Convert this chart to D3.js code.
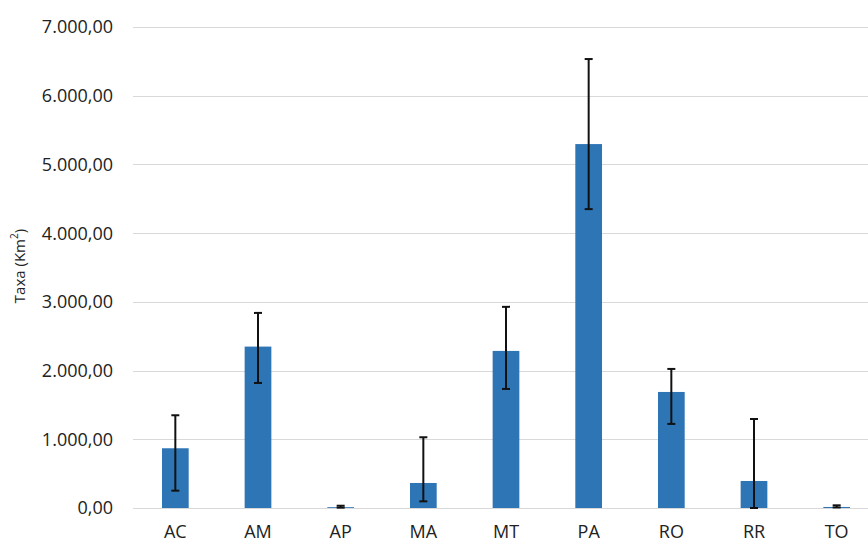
<!DOCTYPE html>
<html lang="pt">
<head>
<meta charset="UTF-8">
<script src="https://d3js.org/d3.v7.min.js"></script>
<style>
    body { margin: 0; background: #fff; }
    svg { display: block; font-family: "Open Sans", sans-serif; }
</style>
</head>
<body>
<svg id="chart" width="868" height="544"></svg>
<script>
    // dados
    const estados = ["AC", "AM", "AP", "MA", "MT", "PA", "RO", "RR", "TO"];
    const taxa = [869, 2348, 12, 364, 2285, 5294, 1688, 393, 15];
    const erroMin = [252, 1819, 5, 97, 1732, 4348, 1223, 0, 8];
    const erroMax = [1349, 2838, 33, 1029, 2926, 6531, 2023, 1295, 39];
    const yTicks = [0, 1000, 2000, 3000, 4000, 5000, 6000, 7000];

    const svg = d3.select("#chart");

    const x = d3.scaleBand()
        .domain(estados)
        .range([134, 878])
        .paddingInner(0.677)
        .paddingOuter(0.3385);

    const y = d3.scaleLinear()
        .domain([0, 7000])
        .range([508, 26.8]);

    const fmt = d3.formatLocale({ decimal: ",", thousands: ".", grouping: [3], currency: ["R$", ""] }).format(",.2f");

    // linhas de grade
    svg.append("g")
        .selectAll("line")
        .data(yTicks)
        .join("line")
        .attr("x1", 133)
        .attr("x2", 868)
        .attr("y1", d => Math.round(y(d)) + 0.5)
        .attr("y2", d => Math.round(y(d)) + 0.5)
        .attr("stroke", "#d9d9d9")
        .attr("stroke-width", 1);

    // rótulos do eixo y
    svg.append("g")
        .selectAll("text")
        .data(yTicks)
        .join("text")
        .attr("x", 113)
        .attr("y", d => y(d))
        .attr("dy", "0.36em")
        .attr("text-anchor", "end")
        .attr("font-size", 18)
        .attr("fill", "#222")
        .text(d => fmt(d));

    // barras
    svg.append("g")
        .selectAll("rect")
        .data(estados)
        .join("rect")
        .attr("x", d => x(d))
        .attr("width", x.bandwidth())
        .attr("y", (d, i) => y(taxa[i]))
        .attr("height", (d, i) => y(0) - y(taxa[i]))
        .attr("fill", "#2e75b6");

    // barras de erro
    const err = svg.append("g")
        .attr("stroke", "#111")
        .attr("stroke-width", 2);
    estados.forEach((d, i) => {
        const cx = x(d) + x.bandwidth() / 2;
        err.append("line")
            .attr("x1", cx).attr("x2", cx)
            .attr("y1", y(erroMin[i])).attr("y2", y(erroMax[i]));
        [erroMin[i], erroMax[i]].forEach(v => {
            err.append("line")
                .attr("x1", cx - 4).attr("x2", cx + 4)
                .attr("y1", y(v)).attr("y2", y(v));
        });
    });

    // rótulos do eixo x
    svg.append("g")
        .selectAll("text")
        .data(estados)
        .join("text")
        .attr("x", d => x(d) + x.bandwidth() / 2)
        .attr("y", 538)
        .attr("text-anchor", "middle")
        .attr("font-size", 18)
        .attr("fill", "#222")
        .text(d => d);

    // título do eixo y
    svg.append("text")
        .attr("transform", "translate(25,266) rotate(-90)")
        .attr("text-anchor", "middle")
        .attr("font-size", 15)
        .attr("fill", "#222")
        .html("Taxa (Km<tspan baseline-shift='super' font-size='10'>2</tspan>)");
</script>
</body>
</html>
